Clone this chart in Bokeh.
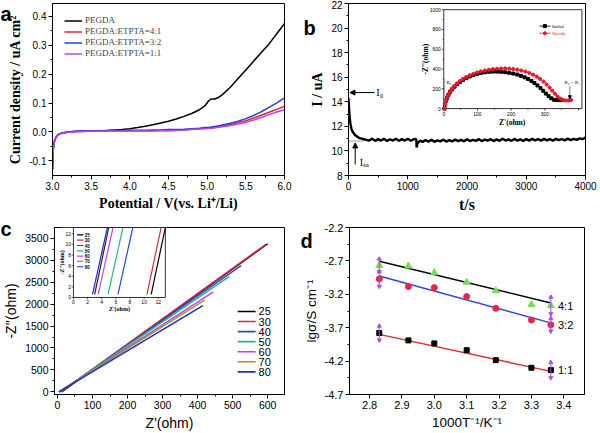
import math
from bokeh.plotting import figure
from bokeh.layouts import column, row
from bokeh.models import (Range1d, FixedTicker, PrintfTickFormatter, Legend, LegendItem,
                          Label, Arrow, NormalHead)
from bokeh.core.properties import value
from bokeh.embed import file_html
from bokeh.resources import INLINE

SANS = "Liberation Sans"
SERIF = "Liberation Serif"

# ---------------- panel a : LSV curves ----------------
a_voltage = [3.00, 3.005, 3.01, 3.02, 3.03, 3.05, 3.08, 3.12, 3.2, 3.3, 3.5, 3.7, 3.9, 4.0, 4.1, 4.2,
             4.3, 4.4, 4.5, 4.6, 4.7, 4.8, 4.9, 4.97, 5.02, 5.05, 5.1, 5.15, 5.2, 5.3, 5.4, 5.5,
             5.6, 5.7, 5.8, 5.9, 6.0]
a_pegda = [-0.13, -0.09, -0.06, -0.04, -0.028, -0.017, -0.009, -0.004, 0.0, 0.002, 0.004, 0.005,
           0.008, 0.011, 0.015, 0.02, 0.025, 0.031, 0.037, 0.045, 0.054, 0.064, 0.077, 0.09,
           0.108, 0.114, 0.114, 0.12, 0.13, 0.155, 0.185, 0.215, 0.245, 0.275, 0.305, 0.34, 0.376]
a_41 = [-0.125, -0.085, -0.058, -0.038, -0.027, -0.016, -0.009, -0.005, -0.001, 0.001, 0.003, 0.004,
        0.004, 0.004, 0.004, 0.004, 0.004, 0.005, 0.005, 0.006, 0.007, 0.009, 0.011, 0.013,
        0.014, 0.015, 0.017, 0.019, 0.021, 0.026, 0.032, 0.039, 0.048, 0.058, 0.068, 0.078, 0.089]
a_32 = [-0.128, -0.088, -0.06, -0.039, -0.027, -0.016, -0.008, -0.004, 0.0, 0.002, 0.004, 0.005,
        0.005, 0.006, 0.006, 0.006, 0.007, 0.007, 0.008, 0.008, 0.009, 0.011, 0.013, 0.015,
        0.016, 0.017, 0.019, 0.021, 0.024, 0.03, 0.037, 0.046, 0.057, 0.07, 0.085, 0.101, 0.118]
a_11 = [-0.132, -0.092, -0.062, -0.041, -0.029, -0.018, -0.01, -0.005, -0.001, 0.001, 0.002, 0.003,
        0.003, 0.003, 0.003, 0.003, 0.003, 0.004, 0.004, 0.005, 0.006, 0.008, 0.01, 0.011,
        0.012, 0.013, 0.014, 0.016, 0.018, 0.022, 0.027, 0.033, 0.041, 0.05, 0.06, 0.069, 0.077]
a_names = ["PEGDA", "PEGDA:ETPTA=4:1", "PEGDA:ETPTA=3:2", "PEGDA:ETPTA=1:1"]
a_colors = ["black", "#e3262c", "#2b3fe0", "#b247f2"]
a_xticks = [3.0, 3.5, 4.0, 4.5, 5.0, 5.5, 6.0]
a_xminor = [3.25, 3.75, 4.25, 4.75, 5.25, 5.75]
a_yticks = [-0.1, 0.0, 0.1, 0.2, 0.3, 0.4]
a_yminor = [-0.05, 0.05, 0.15, 0.25, 0.35]

# ---------------- panel b : chronoamperometry ----------------
b_t = [0, 5, 10, 15, 20, 30, 40, 50, 65, 80, 100, 120, 150, 180, 220, 260, 300,
       350, 400, 450, 500, 550, 600, 650, 700, 750, 800, 850, 900, 950, 1000, 1050, 1100,
       1130, 1145, 1150, 1160, 1180, 1210,
       1250, 1300, 1350, 1400, 1450, 1500, 1550, 1600, 1650, 1700,
       1750, 1800, 1850, 1900, 1950, 2000, 2050, 2100, 2150, 2200,
       2250, 2300, 2350, 2400, 2450, 2500, 2550, 2600, 2650, 2700,
       2750, 2800, 2850, 2900, 2950, 3000, 3050, 3100, 3150, 3200,
       3250, 3300, 3350, 3400, 3450, 3500, 3550, 3600, 3650, 3700,
       3750, 3800, 3850, 3900, 3950, 4000]
b_i = [14.3, 13.9, 13.4, 13.0, 12.7, 12.3, 12.0, 11.8, 11.6, 11.5, 11.35, 11.25, 11.15, 11.05, 11.0, 10.95, 10.9,
       10.85, 11.0, 10.82, 10.96, 10.84, 11.0, 10.8, 10.95, 10.84, 11.0, 10.82, 10.96, 10.84, 11.0, 10.83, 10.95,
       10.98, 10.9, 10.28, 10.55, 10.7, 10.85,
       10.72, 10.88, 10.76, 10.9, 10.74, 10.86, 10.78, 10.92, 10.76, 10.88,
       10.78, 10.92, 10.8, 10.9, 10.78, 10.95, 10.8, 10.9, 10.82, 10.96,
       10.8, 10.92, 10.84, 10.96, 10.8, 10.94, 10.82, 11.0, 10.84, 10.94,
       10.82, 10.98, 10.84, 10.94, 10.82, 10.96, 10.84, 10.98, 10.86, 10.96,
       10.84, 10.98, 10.86, 10.96, 10.84, 10.98, 10.88, 10.96, 10.86, 11.0,
       10.88, 10.98, 10.9, 11.02, 10.96, 11.1]
b_mark_t = [0]
b_mark_i = [14.2]
b_i0_level = 14.75
b_iss_level = 10.8
b_xticks = [0, 1000, 2000, 3000, 4000]
b_xminor = [500, 1500, 2500, 3500]
b_yticks = [8, 10, 12, 14, 16, 18, 20, 22]
b_yminor = [9, 11, 13, 15, 17, 19, 21]

# inset of b : impedance spectra
bi_init_x = [2, 4, 7, 10, 14, 19, 25, 32, 40, 48, 57, 67, 77, 88, 99, 110, 122, 134, 146, 158, 170,
             182, 194, 206, 218, 229, 240, 250, 260, 269, 278, 287, 295, 303, 311, 319, 327, 335, 343, 350]
bi_init_y = [0, 40, 80, 110, 140, 170, 195, 222, 248, 270, 290, 308, 325, 339, 351, 360, 367, 372, 374, 374, 372,
             368, 362, 354, 344, 331, 316, 299, 280, 258, 234, 207, 180, 152, 126, 104, 89, 86, 86, 88]
bi_st_x = [2, 4, 7, 10, 14, 19, 25, 32, 40, 48, 57, 67, 77, 88, 99, 110, 122, 134, 146, 158, 170, 182,
           194, 206, 218, 230, 242, 254, 265, 276, 286, 296, 305, 314, 322, 330, 338, 346, 354, 362, 370, 378]
bi_st_y = [0, 42, 82, 114, 145, 176, 203, 230, 256, 279, 300, 320, 337, 352, 365, 376, 385, 393, 399, 403, 405, 406,
           404, 400, 394, 385, 374, 360, 343, 323, 300, 273, 244, 213, 181, 150, 122, 100, 86, 82, 83, 86]
bi_xticks = [0, 100, 200, 300, 400]
bi_xlabels = ["0", "100", "200", "300", ""]
bi_xminor = [50, 150, 250, 350]
bi_yticks = [0, 200, 400, 600, 800, 1000]
bi_yminor = [100, 300, 500, 700, 900]
bi_names = ["Initial", "Steady"]
bi_colors = ["black", "#e8182a"]

# ---------------- panel c : Nyquist plots ----------------
c_temps = ["25", "30", "40", "50", "60", "70", "80"]
c_colors = ["black", "#d7263d", "#2a47d8", "#22b684", "#c43fe6", "#9a9a2a", "#1f2ad0"]
c_x_start = [12, 10, 8, 6, 5, 4, 4]
c_x_end = [600, 595, 524, 491, 445, 420, 415]
c_y_end = [3375, 3360, 2878, 2633, 2277, 2092, 1966]
c_xticks = [0, 100, 200, 300, 400, 500, 600]
c_xminor = [50, 150, 250, 350, 450, 550, 650]
c_yticks = [0, 500, 1000, 1500, 2000, 2500, 3000, 3500]
c_yminor = [250, 750, 1250, 1750, 2250, 2750, 3250]

# inset of c : high-frequency zoom
ci_x_bottom = [11.0, 10.4, 6.3, 4.9, 3.5, 3.0, 2.7]
ci_x_top = [13.0, 12.4, 8.4, 7.0, 5.6, 5.0, 4.8]
ci_y_span = [0.6, 13.2]
ci_line_colors = ["black", "#d7263d", "#2a47d8", "#22b684", "#c43fe6", "#202020", "#1f2ad0"]
ci_ticks = [0, 2, 4, 6, 8, 10, 12]

# ---------------- panel d : Arrhenius plot ----------------
d_x = [2.83, 2.92, 3.00, 3.10, 3.19, 3.30, 3.36]
d_41 = [-2.767, -2.777, -2.878, -3.02, -3.147, -3.354, -3.368]
d_32 = [-2.97, -3.085, -3.10, -3.234, -3.41, -3.585, -3.657]
d_11 = [-3.78, -3.89, -3.935, -4.037, -4.186, -4.30, -4.335]
d_fit_x = [2.83, 3.36]
d_fit_41 = [-2.705, -3.33]
d_fit_32 = [-2.926, -3.628]
d_fit_11 = [-3.80, -4.354]
d_err_41 = [0.095, 0.125]
d_err_32 = [0.11, 0.095]
d_err_11 = [0.105, 0.115]
d_names = ["4:1", "3:2", "1:1"]
d_xticks = [2.8, 2.9, 3.0, 3.1, 3.2, 3.3, 3.4]
d_yticks = [-4.7, -4.2, -3.7, -3.2, -2.7, -2.2]
d_yminor = [-4.45, -3.95, -3.45, -2.95, -2.45]

# ---------------- layout (page has no margin: 600 x 433) ----------------
W = 300
H1, H2 = 215, 218
BA = (52, 16, 2, 37)   # left, right, top, bottom
BB = (48, 15, 3, 37)
BC = (53, 16, 12, 35)
BD = (48, 16, 9, 36)


def make_fig(w, h, xr, yr, b, tick_font_size):
    p = figure(width=w, height=h, x_range=Range1d(*xr), y_range=Range1d(*yr),
               output_backend="svg", toolbar_location=None,
               min_border_left=b[0], min_border_right=b[1], min_border_top=b[2], min_border_bottom=b[3])
    p.grid.visible = False
    p.outline_line_color = "black"
    p.outline_line_width = 1
    p.background_fill_color = "white"
    p.border_fill_color = "white"
    for ax in p.axis:
        ax.axis_line_color = "black"
        ax.major_tick_in = 0
        ax.major_tick_out = 4
        ax.minor_tick_in = 0
        ax.minor_tick_out = 2
        ax.major_tick_line_color = "black"
        ax.minor_tick_line_color = "black"
        ax.major_label_standoff = 2
        ax.axis_label_standoff = 3
        ax.major_label_text_font = SANS
        ax.major_label_text_font_size = tick_font_size
        ax.major_label_text_color = "black"
        ax.axis_label_text_color = "black"
    return p


def frame_size(w, h, b):
    return w - b[0] - b[1], h - b[2] - b[3]


def inset_range(f0, f1, i0, i1):
    span = (i1 - i0) / (f1 - f0)
    start = i0 - f0 * span
    return Range1d(start, start + span)


def to_data(xr, yr, b, fw, fh, cx, cy):
    xd = xr[0] + (cx - b[0]) / fw * (xr[1] - xr[0])
    yd = yr[1] - (cy - b[2]) / fh * (yr[1] - yr[0])
    return xd, yd


def panel_letter(p, txt, w, h, b, cx, cy):
    # label lives in the (empty) right side panel, so it is not clipped to the frame;
    # offsets are measured from that panel's left edge / the frame bottom.
    p.add_layout(Label(x=cx - (w - b[1]), y=(h - b[3]) - cy, x_units="screen", y_units="screen",
                       text=txt, text_font=SANS, text_font_style="bold", text_font_size="20px",
                       text_baseline="alphabetic", text_color="black"), "right")


# ================= panel a =================
AXR, AYR = (3.0, 6.0), (-0.151, 0.445)
pa = make_fig(W, H1, AXR, AYR, BA, "10px")
pa.xaxis.ticker = FixedTicker(ticks=a_xticks, minor_ticks=a_xminor)
pa.yaxis.ticker = FixedTicker(ticks=a_yticks, minor_ticks=a_yminor)
pa.xaxis.formatter = PrintfTickFormatter(format="%.1f")
pa.yaxis.formatter = PrintfTickFormatter(format="%.1f")
pa.xaxis.axis_label = "Potential / V(vs. Li\u207a/Li)"
pa.yaxis.axis_label = "Current density / uA cm\u00b2"
for ax in pa.axis:
    ax.axis_label_text_font = SERIF
    ax.axis_label_text_font_style = "bold"
    ax.axis_label_text_font_size = "14px"
ra = []
for ys, col in zip([a_pegda, a_41, a_32, a_11], a_colors):
    ra.append(pa.line(a_voltage, ys, line_color=col, line_width=1.5))
leg_a = Legend(items=[LegendItem(label=n, renderers=[r]) for n, r in zip(a_names, ra)],
               location="top_left", margin=12, padding=3, border_line_color=None,
               background_fill_alpha=0, label_text_font=SERIF, label_text_font_size="9px",
               glyph_width=18, glyph_height=9, label_height=9, spacing=1, label_standoff=3)
pa.add_layout(leg_a)
panel_letter(pa, "a", W, H1, BA, 0, 16)

# ================= panel b =================
BXR, BYR = (0, 4000), (8, 22)
pb = make_fig(W, H1, BXR, BYR, BB, "10px")
pb.xaxis.ticker = FixedTicker(ticks=b_xticks, minor_ticks=b_xminor)
pb.yaxis.ticker = FixedTicker(ticks=b_yticks, minor_ticks=b_yminor)
pb.xaxis.axis_label = "t/s"
pb.yaxis.axis_label = "I / uA"
for ax in pb.axis:
    ax.axis_label_text_font = SERIF
    ax.axis_label_text_font_style = "bold"
    ax.axis_label_text_font_size = "14px"
pb.xaxis.axis_label_text_font_size = "16px"
pb.line(b_t, b_i, line_color="black", line_width=2.4)
pb.scatter(b_mark_t, b_mark_i, marker="circle", size=3, color="#8a3cf0")
pb.line([b_t[0], b_t[15]], [b_iss_level, b_iss_level], line_color="#888888", line_width=0.8)
pb.add_layout(Arrow(end=NormalHead(size=5, fill_color="black", line_color="black"),
                    x_start=440, y_start=b_i0_level, x_end=25, y_end=b_i0_level,
                    line_color="black", line_width=1))
pb.add_layout(Arrow(end=NormalHead(size=5, fill_color="black", line_color="black"),
                    x_start=113, y_start=8.9, x_end=113, y_end=b_iss_level - 0.15,
                    line_color="black", line_width=1))
pb.text(x=[470], y=[b_i0_level], text=["I\u2080"], text_font=value(SERIF), text_font_size="10px",
        text_baseline="middle", text_color="black")
pb.text(x=[190], y=[9.05], text=["I\u209b\u209b"], text_font=value(SERIF), text_font_size="10px",
        text_baseline="middle", text_color="black")

# inset b
FWb, FHb = frame_size(W, H1, BB)
bfx = (0.402, 0.985)
bfy = (0.389, 0.964)
bxr = (0, 410)
byr = (0, 1000)
pb.extra_x_ranges["ins"] = inset_range(bfx[0], bfx[1], *bxr)
pb.extra_y_ranges["ins"] = inset_range(bfy[0], bfy[1], *byr)
bppx = FWb * (bfx[1] - bfx[0]) / (bxr[1] - bxr[0])
bppy = FHb * (bfy[1] - bfy[0]) / (byr[1] - byr[0])
IK = dict(x_range_name="ins", y_range_name="ins")
pb.quad(left=[bxr[0]], right=[bxr[1]], bottom=[byr[0]], top=[byr[1]], fill_color="white",
        line_color="black", line_width=0.8, **IK)
tl = 2.0
pb.segment(x0=bi_xticks, y0=[byr[0]] * len(bi_xticks), x1=bi_xticks,
           y1=[byr[0] - tl / bppy] * len(bi_xticks), line_color="black", line_width=0.7, **IK)
pb.segment(x0=bi_xminor, y0=[byr[0]] * len(bi_xminor), x1=bi_xminor,
           y1=[byr[0] - 1.2 / bppy] * len(bi_xminor), line_color="black", line_width=0.6, **IK)
pb.segment(x0=[bxr[0]] * len(bi_yticks), y0=bi_yticks, x1=[bxr[0] - tl / bppx] * len(bi_yticks),
           y1=bi_yticks, line_color="black", line_width=0.7, **IK)
pb.segment(x0=[bxr[0]] * len(bi_yminor), y0=bi_yminor, x1=[bxr[0] - 1.2 / bppx] * len(bi_yminor),
           y1=bi_yminor, line_color="black", line_width=0.6, **IK)
pb.text(x=bi_xticks, y=[byr[0] - 3 / bppy] * len(bi_xticks), text=bi_xlabels,
        text_font=value(SANS), text_font_size="5px", text_align="center", text_baseline="top",
        text_color="black", **IK)
pb.text(x=[bxr[0] - 3 / bppx] * len(bi_yticks), y=bi_yticks, text=[str(v) for v in bi_yticks],
        text_font=value(SANS), text_font_size="5px", text_align="right", text_baseline="middle",
        text_color="black", **IK)
pb.text(x=[(bxr[0] + bxr[1]) / 2 - 2], y=[byr[0] - 10 / bppy], text=["Z'(ohm)"],
        text_font=value(SERIF), text_font_style="bold", text_font_size="7.5px",
        text_align="center", text_baseline="top", text_color="black", **IK)
pb.text(x=[bxr[0] - 14 / bppx], y=[(byr[0] + byr[1]) / 2], text=["-Z''(ohm)"], angle=math.pi / 2,
        text_font=value(SERIF), text_font_style="bold", text_font_size="7.5px",
        text_align="center", text_baseline="bottom", text_color="black", **IK)
pb.line(bi_init_x, bi_init_y, line_color=bi_colors[0], line_width=0.8, **IK)
pb.scatter(bi_init_x, bi_init_y, marker="square", size=3, color=bi_colors[0], **IK)
pb.line(bi_st_x, bi_st_y, line_color=bi_colors[1], line_width=0.8, **IK)
pb.scatter(bi_st_x, bi_st_y, marker="circle", size=3.2, color=bi_colors[1], **IK)
for k, (nm, colr, mk) in enumerate(zip(bi_names, bi_colors, ["square", "circle"])):
    ly = 834 - k * 72
    pb.line([284, 317], [ly, ly], line_color=colr, line_width=0.8, **IK)
    pb.scatter([300], [ly], marker=mk, size=3, color=colr, **IK)
    pb.text(x=[321], y=[ly], text=[nm], text_font=value(SERIF), text_font_size="5px",
            text_baseline="middle", text_color=colr, **IK)
pb.segment(x0=[3], y0=[0], x1=[3], y1=[300], line_color="#888888", line_width=0.5, **IK)
pb.text(x=[8], y=[262], text=["R\u2080"], text_font=value(SERIF), text_font_size="5px",
        text_baseline="middle", text_color="black", **IK)
pb.text(x=[358], y=[262], text=["R\u209b = R\u1d62"], text_font=value(SERIF), text_font_size="5px",
        text_baseline="middle", text_color="black", **IK)
pb.add_layout(Arrow(end=NormalHead(size=3, fill_color="black", line_color="black"),
                    x_start=374, y_start=230, x_end=374, y_end=100, line_color="black",
                    line_width=0.5, **IK))
panel_letter(pb, "b", W, H1, BB, 3, 30)

# ================= panel c =================
CXR, CYR = (-8.5, 648), (-60, 3745)
pc = make_fig(W, H2, CXR, CYR, BC, "10.5px")
pc.xaxis.ticker = FixedTicker(ticks=c_xticks, minor_ticks=c_xminor)
pc.yaxis.ticker = FixedTicker(ticks=c_yticks, minor_ticks=c_yminor)
pc.xaxis.axis_label = "Z'(ohm)"
pc.yaxis.axis_label = "-Z''(ohm)"
for ax in pc.axis:
    ax.axis_label_text_font = SANS
    ax.axis_label_text_font_style = "normal"
    ax.axis_label_text_font_size = "14px"
FWc, FHc = frame_size(W, H2, BC)
for x0, x1, y1, col in zip(c_x_start, c_x_end, c_y_end, c_colors):
    pc.line([x0, x1], [0, y1], line_color=col, line_width=1.5)
for k, (nm, col) in enumerate(zip(c_temps, c_colors)):
    lx0, ly = to_data(CXR, CYR, BC, FWc, FHc, 237, 98 + k * 10.3)
    lx1, _ = to_data(CXR, CYR, BC, FWc, FHc, 255, 0)
    tx, _ = to_data(CXR, CYR, BC, FWc, FHc, 258, 0)
    pc.line([lx0, lx1], [ly, ly], line_color=col, line_width=1.6)
    pc.text(x=[tx], y=[ly], text=[nm], text_font=value(SANS), text_font_size="11px",
            text_baseline="middle", text_color="black")

# inset c
cfx = (0.0823, 0.482)
cfy = (0.581, 1.0)
cxr = (0, 13)
cyr = (0, 13.2)
pc.extra_x_ranges["ins"] = inset_range(cfx[0], cfx[1], *cxr)
pc.extra_y_ranges["ins"] = inset_range(cfy[0], cfy[1], *cyr)
cppx = FWc * (cfx[1] - cfx[0]) / (cxr[1] - cxr[0])
cppy = FHc * (cfy[1] - cfy[0]) / (cyr[1] - cyr[0])
pc.quad(left=[cxr[0] - 12 / cppx], right=[cxr[1] + 2 / cppx], bottom=[cyr[0] - 18 / cppy],
        top=[cyr[1]], fill_color="white", line_color=None, **IK)
pc.quad(left=[cxr[0]], right=[cxr[1]], bottom=[cyr[0]], top=[cyr[1]], fill_color=None,
        line_color="black", line_width=0.8, **IK)
for xb, xt, col in zip(ci_x_bottom, ci_x_top, ci_line_colors):
    pc.line([xb, xt], ci_y_span, line_color=col, line_width=1.2, **IK)
pc.segment(x0=ci_ticks, y0=[cyr[0]] * 7, x1=ci_ticks, y1=[cyr[0] - 1.8 / cppy] * 7,
           line_color="black", line_width=0.6, **IK)
pc.segment(x0=[cxr[0]] * 7, y0=ci_ticks, x1=[cxr[0] - 1.8 / cppx] * 7, y1=ci_ticks,
           line_color="black", line_width=0.6, **IK)
pc.text(x=ci_ticks, y=[cyr[0] - 2.5 / cppy] * 7, text=[str(v) for v in ci_ticks],
        text_font=value(SANS), text_font_size="5px", text_align="center", text_baseline="top",
        text_color="black", **IK)
pc.text(x=[cxr[0] - 2.5 / cppx] * 7, y=ci_ticks, text=[str(v) for v in ci_ticks],
        text_font=value(SANS), text_font_size="5px", text_align="right", text_baseline="middle",
        text_color="black", **IK)
pc.text(x=[(cxr[0] + cxr[1]) / 2], y=[cyr[0] - 9 / cppy], text=["Z'(ohm)"],
        text_font=value(SERIF), text_font_style="bold", text_font_size="6px",
        text_align="center", text_baseline="top", text_color="black", **IK)
pc.text(x=[cxr[0] - 8 / cppx], y=[(cyr[0] + cyr[1]) / 2], text=["-Z''(ohm)"], angle=math.pi / 2,
        text_font=value(SERIF), text_font_style="bold", text_font_size="6px",
        text_align="center", text_baseline="bottom", text_color="black", **IK)
for k, (nm, col) in enumerate(zip(c_temps, c_colors)):
    ly = 11.8 - k * 1.0
    pc.line([0.5, 1.4], [ly, ly], line_color=col, line_width=1.2, **IK)
    pc.text(x=[1.6], y=[ly], text=[nm], text_font=value(SANS), text_font_style="bold",
            text_font_size="4.5px", text_baseline="middle", text_color="black", **IK)
panel_letter(pc, "c", W, H2, BC, 0, 17)

# ================= panel d =================
DXR, DYR = (2.738, 3.464), (-4.7, -2.2)
pd = make_fig(W, H2, DXR, DYR, BD, "11px")
pd.xaxis.ticker = FixedTicker(ticks=d_xticks)
pd.yaxis.ticker = FixedTicker(ticks=d_yticks, minor_ticks=d_yminor)
pd.xaxis.formatter = PrintfTickFormatter(format="%.1f")
pd.yaxis.formatter = PrintfTickFormatter(format="%.1f")
pd.xaxis.axis_label = "1000T\u207b\u00b9/K\u207b\u00b9"
pd.yaxis.axis_label = "lg\u03c3/S cm\u207b\u00b9"
for ax in pd.axis:
    ax.axis_label_text_font = SANS
    ax.axis_label_text_font_style = "normal"
    ax.axis_label_text_font_size = "13.5px"
pd.line(d_fit_x, d_fit_41, line_color="black", line_width=1.5)
pd.line(d_fit_x, d_fit_32, line_color="#2a47d8", line_width=1.5)
pd.line(d_fit_x, d_fit_11, line_color="#e3262c", line_width=1.5)
pd.scatter(d_x, d_41, marker="triangle", size=7, color="#77dd55")
pd.scatter(d_x, d_32, marker="circle", size=6, color="#ee2244")
pd.scatter(d_x, d_11, marker="square", size=5, color="black")
ex = [d_x[0], d_x[-1]]
for ys, err in [(d_41, d_err_41), (d_32, d_err_32), (d_11, d_err_11)]:
    yc = [ys[0], ys[-1]]
    top = [c + e for c, e in zip(yc, err)]
    bot = [c - e for c, e in zip(yc, err)]
    pd.segment(x0=ex, y0=bot, x1=ex, y1=top, line_color="#a64ee8", line_width=1)
    pd.scatter(ex, top, marker="triangle", size=4, color="#a64ee8")
    pd.scatter(ex, bot, marker="inverted_triangle", size=4, color="#a64ee8")
pd.text(x=[d_x[-1] + 0.022] * 3, y=[d_41[-1], d_32[-1], d_11[-1]], text=d_names,
        text_font=value(SANS), text_font_size="11px", text_baseline="middle", text_color="black")
panel_letter(pd, "d", W, H2, BD, 0, 28)

layout = column(row(pa, pb), row(pc, pd))
open("out.html", "w").write(file_html(layout, INLINE))
